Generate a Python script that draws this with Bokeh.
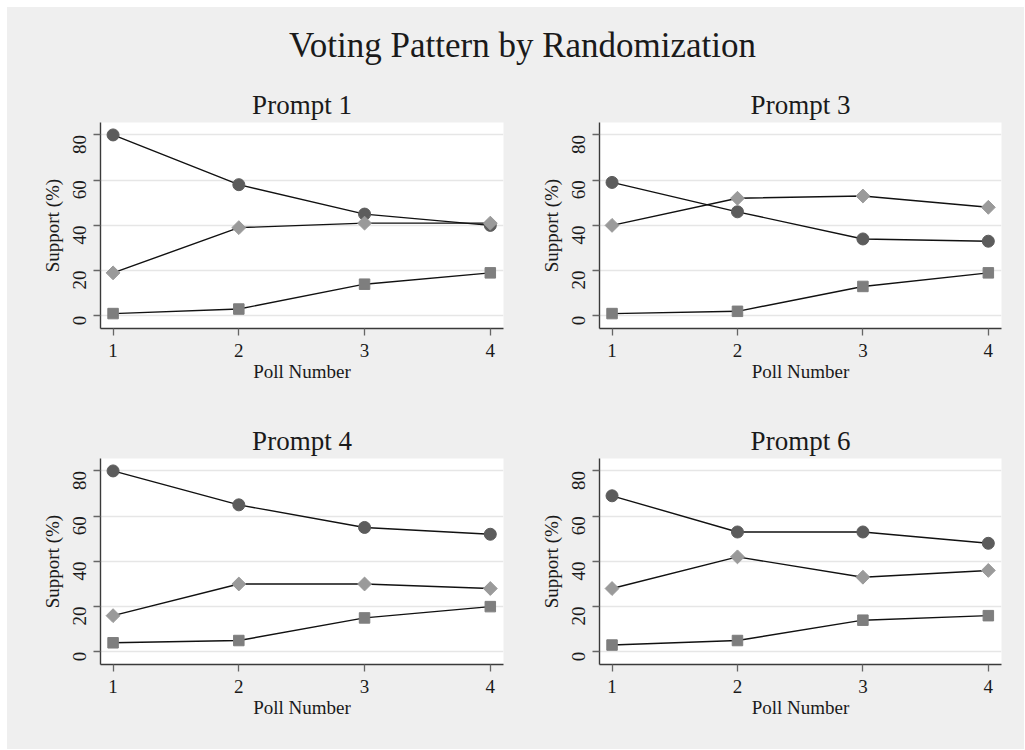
import math
from bokeh.plotting import figure
from bokeh.layouts import column, row
from bokeh.models import Spacer, Label, Range1d, FixedTicker
from bokeh.embed import file_html
from bokeh.resources import INLINE

# Poll numbers and support (%) per prompt; three series each
polls = [1, 2, 3, 4]
prompt_names = ["Prompt 1", "Prompt 3", "Prompt 4", "Prompt 6"]

circle_vals = {
    "Prompt 1": [80, 58, 45, 40],
    "Prompt 3": [59, 46, 34, 33],
    "Prompt 4": [80, 65, 55, 52],
    "Prompt 6": [69, 53, 53, 48],
}
square_vals = {
    "Prompt 1": [1, 3, 14, 19],
    "Prompt 3": [1, 2, 13, 19],
    "Prompt 4": [4, 5, 15, 20],
    "Prompt 6": [3, 5, 14, 16],
}
diamond_vals = {
    "Prompt 1": [19, 39, 41, 41],
    "Prompt 3": [40, 52, 53, 48],
    "Prompt 4": [16, 30, 30, 28],
    "Prompt 6": [28, 42, 33, 36],
}
y_ticks = [0, 20, 40, 60, 80]
x_ticks = [1, 2, 3, 4]

FONT = "Liberation Serif"
BG = "#efefef"
TXT = "#1a1a1a"


def panel(name, width, left, right, height, bottom):
    p = figure(width=width, height=height, output_backend="svg",
               toolbar_location=None, title=name,
               x_range=Range1d(0.9, 4.105), y_range=Range1d(-5.6, 85.5),
               min_border_left=left, min_border_right=right,
               min_border_top=40, min_border_bottom=bottom)
    p.background_fill_color = "white"
    p.border_fill_color = BG
    p.outline_line_color = None

    p.title.text_font = FONT
    p.title.text_font_size = "27px"
    p.title.text_font_style = "normal"
    p.title.text_color = TXT
    p.title.align = "center"
    p.title.standoff = 6

    p.xgrid.grid_line_color = None
    p.ygrid.grid_line_color = "#e6e6e6"
    p.ygrid.grid_line_width = 1.5

    for ax in (p.xaxis[0], p.yaxis[0]):
        ax.axis_line_color = "#3a3a3a"
        ax.axis_line_width = 1.4
        ax.major_tick_line_color = "#666666"
        ax.major_tick_line_width = 1.3
        ax.major_tick_in = 0
        ax.major_tick_out = 7
        ax.minor_tick_line_color = None
        ax.major_label_text_font = FONT
        ax.major_label_text_font_size = "19px"
        ax.major_label_text_color = TXT
        ax.axis_label_text_font = FONT
        ax.axis_label_text_font_size = "19px"
        ax.axis_label_text_font_style = "normal"
        ax.axis_label_text_color = TXT

    p.xaxis.ticker = FixedTicker(ticks=x_ticks)
    p.yaxis.ticker = FixedTicker(ticks=y_ticks)
    p.xaxis.axis_label = "Poll Number"
    p.yaxis.axis_label = "Support (%)"
    p.xaxis.major_label_standoff = 8
    p.xaxis.axis_label_standoff = 1
    p.yaxis.major_label_orientation = math.pi / 2
    p.yaxis.major_label_standoff = 14
    p.yaxis.axis_label_standoff = 1

    # circles, then squares, then diamonds on top
    p.line(polls, circle_vals[name], line_color="#111111", line_width=1.4)
    p.scatter(polls, circle_vals[name], marker="circle", size=12,
              fill_color="#5c5c5c", line_color="#5c5c5c")
    p.line(polls, square_vals[name], line_color="#111111", line_width=1.4)
    p.scatter(polls, square_vals[name], marker="square", size=10.5,
              fill_color="#7e7e7e", line_color="#7e7e7e")
    p.line(polls, diamond_vals[name], line_color="#111111", line_width=1.4)
    p.scatter(polls, diamond_vals[name], marker="square", size=9.8,
              angle=math.pi / 4, fill_color="#9a9a9a", line_color="#9a9a9a")
    return p


W_LEFT, W_RIGHT = 505, 512
HEAD_H = 75
H_TOP, H_BOT = 336, 331

p1 = panel("Prompt 1", W_LEFT, 93, 9, H_TOP, 90)
p3 = panel("Prompt 3", W_RIGHT, 87, 23, H_TOP, 90)
p4 = panel("Prompt 4", W_LEFT, 93, 9, H_BOT, 85)
p6 = panel("Prompt 6", W_RIGHT, 87, 23, H_BOT, 85)

# heading strip with the overall title
head = figure(width=W_LEFT + W_RIGHT, height=HEAD_H, output_backend="svg",
              toolbar_location=None, x_range=(0, 1), y_range=(0, 1),
              min_border=0)
head.axis.visible = False
head.grid.visible = False
head.outline_line_color = None
head.background_fill_color = BG
head.border_fill_color = BG
head.add_layout(Label(x=515, y=HEAD_H - 38, x_units="screen", y_units="screen",
                      text="Voting Pattern by Randomization",
                      text_font=FONT, text_font_size="35px",
                      text_color=TXT, text_align="center",
                      text_baseline="alphabetic"))

bg = {"background-color": BG}
top_row = row(p1, p3, styles=bg)
bot_row = row(p4, p6, styles=bg)
body = column(head, top_row, bot_row, styles=bg)
layout = row(Spacer(width=7), column(Spacer(height=7), body))

open("out.html", "w").write(file_html(layout, INLINE))
